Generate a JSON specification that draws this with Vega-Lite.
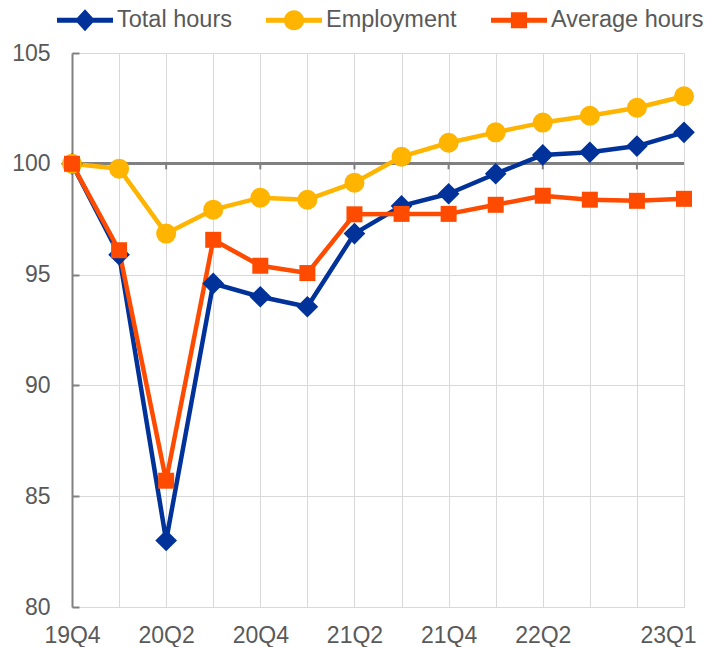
{
  "$schema": "https://vega.github.io/schema/vega-lite/v6.json",
  "autosize": {"type": "none"},
  "width": 612,
  "height": 554,
  "padding": {"left": 72, "top": 53, "right": 26, "bottom": 40},
  "background": "white",
  "config": {
    "view": {"stroke": null},
    "font": "Liberation Sans",
    "axis": {"labelFont": "Liberation Sans", "labelFontSize": 23, "labelColor": "#595959", "title": null},
    "legend": {"symbolStrokeWidth": 0, "symbolOpacity": 1}
  },
  "data": {"values": [
    {"q": "19Q4", "s": "Total hours", "v": 100},
    {"q": "20Q1", "s": "Total hours", "v": 95.9},
    {"q": "20Q2", "s": "Total hours", "v": 83.0},
    {"q": "20Q3", "s": "Total hours", "v": 94.6},
    {"q": "20Q4", "s": "Total hours", "v": 94.0},
    {"q": "21Q1", "s": "Total hours", "v": 93.55},
    {"q": "21Q2", "s": "Total hours", "v": 96.85},
    {"q": "21Q3", "s": "Total hours", "v": 98.1},
    {"q": "21Q4", "s": "Total hours", "v": 98.65},
    {"q": "22Q1", "s": "Total hours", "v": 99.55},
    {"q": "22Q2", "s": "Total hours", "v": 100.4},
    {"q": "22Q3", "s": "Total hours", "v": 100.52},
    {"q": "22Q4", "s": "Total hours", "v": 100.8},
    {"q": "23Q1", "s": "Total hours", "v": 101.42},
    {"q": "19Q4", "s": "Employment", "v": 100},
    {"q": "20Q1", "s": "Employment", "v": 99.78},
    {"q": "20Q2", "s": "Employment", "v": 96.85},
    {"q": "20Q3", "s": "Employment", "v": 97.93},
    {"q": "20Q4", "s": "Employment", "v": 98.47},
    {"q": "21Q1", "s": "Employment", "v": 98.38},
    {"q": "21Q2", "s": "Employment", "v": 99.15},
    {"q": "21Q3", "s": "Employment", "v": 100.32},
    {"q": "21Q4", "s": "Employment", "v": 100.95},
    {"q": "22Q1", "s": "Employment", "v": 101.42},
    {"q": "22Q2", "s": "Employment", "v": 101.86},
    {"q": "22Q3", "s": "Employment", "v": 102.17},
    {"q": "22Q4", "s": "Employment", "v": 102.53},
    {"q": "23Q1", "s": "Employment", "v": 103.05},
    {"q": "19Q4", "s": "Average hours", "v": 100},
    {"q": "20Q1", "s": "Average hours", "v": 96.1},
    {"q": "20Q2", "s": "Average hours", "v": 85.7},
    {"q": "20Q3", "s": "Average hours", "v": 96.57},
    {"q": "20Q4", "s": "Average hours", "v": 95.4},
    {"q": "21Q1", "s": "Average hours", "v": 95.07},
    {"q": "21Q2", "s": "Average hours", "v": 97.72},
    {"q": "21Q3", "s": "Average hours", "v": 97.74},
    {"q": "21Q4", "s": "Average hours", "v": 97.74},
    {"q": "22Q1", "s": "Average hours", "v": 98.15},
    {"q": "22Q2", "s": "Average hours", "v": 98.56},
    {"q": "22Q3", "s": "Average hours", "v": 98.38},
    {"q": "22Q4", "s": "Average hours", "v": 98.33},
    {"q": "23Q1", "s": "Average hours", "v": 98.42}
  ]},
  "encoding": {
    "x": {
      "field": "q", "type": "ordinal",
      "scale": {"type": "point", "padding": 0, "domain": ["19Q4","20Q1","20Q2","20Q3","20Q4","21Q1","21Q2","21Q3","21Q4","22Q1","22Q2","22Q3","22Q4","23Q1"]},
      "axis": {
        "grid": true, "gridColor": "#d9d9d9", "gridWidth": 1,
        "domain": false, "ticks": false, "labelAngle": 0, "labelPadding": 17,
        "labelExpr": "indexof(['19Q4','20Q2','20Q4','21Q2','21Q4','22Q2','23Q1'], datum.value) >= 0 ? datum.value : ''",
        "labelOffset": {"condition": {"test": "datum.value === '23Q1'", "value": -16}, "value": 0}
      }
    },
    "color": {
      "field": "s", "type": "nominal",
      "scale": {"domain": ["Total hours", "Employment", "Average hours"], "range": ["#003299", "#FFB400", "#FF4B00"]},
      "legend": {
        "orient": "none", "legendX": -15, "legendY": -61,
        "direction": "horizontal", "title": null,
        "labelFont": "Liberation Sans", "labelFontSize": 23.5, "labelColor": "#595959",
        "symbolSize": 3136, "labelOffset": 4, "columnPadding": 34
      }
    }
  },
  "layer": [
    {
      "mark": {"type": "rule", "color": "#808080", "strokeWidth": 2},
      "encoding": {"x": null, "color": null, "y": {"datum": 100, "type": "quantitative"}}
    },
    {
      "transform": [
        {"filter": "datum.s === 'Total hours'"},
        {"filter": {"field": "q", "oneOf": ["19Q4","20Q2","20Q4","21Q2","21Q4","22Q2","22Q4"]}}
      ],
      "mark": {"type": "rule", "color": "#808080", "strokeWidth": 2},
      "encoding": {
        "color": null,
        "y": {"datum": 100, "type": "quantitative"},
        "y2": {"datum": 99.75}
      }
    },
    {
      "mark": {"type": "line", "strokeWidth": 4.5, "strokeJoin": "round"},
      "encoding": {
        "y": {
          "field": "v", "type": "quantitative",
          "scale": {"domain": [80, 105], "nice": false, "zero": false},
          "axis": {
            "values": [80, 85, 90, 95, 100, 105],
            "grid": true, "gridColor": "#d9d9d9", "gridWidth": 1,
            "domain": true, "domainColor": "#808080", "domainWidth": 2,
            "ticks": true, "tickColor": "#808080", "tickWidth": 2, "tickSize": -7,
            "labelPadding": 29
          }
        }
      }
    },
    {
      "transform": [{"filter": "datum.v < 0"}],
      "mark": {"type": "point", "filled": true, "opacity": 1},
      "encoding": {
        "y": {"field": "v", "type": "quantitative"},
        "shape": {
          "field": "s", "type": "nominal",
          "scale": {
            "domain": ["Total hours", "Employment", "Average hours"],
            "range": [
              "M-1,-0.09H1V0.09H-1Z M-0.36,0L0,-0.39L0.36,0L0,0.39Z",
              "M-1,-0.09H1V0.09H-1Z M-0.36,0A0.36,0.36 0 1,1 0.36,0A0.36,0.36 0 1,1 -0.36,0Z",
              "M-1,-0.09H1V0.09H-1Z M-0.29,-0.29H0.29V0.29H-0.29Z"
            ]
          },
          "legend": {
            "orient": "none", "legendX": -15, "legendY": -61,
            "direction": "horizontal", "title": null,
            "labelFont": "Liberation Sans", "labelFontSize": 23.5, "labelColor": "#595959",
            "symbolSize": 3136, "labelOffset": 4, "columnPadding": 34
          }
        }
      }
    },
    {
      "transform": [{"filter": "datum.s === 'Total hours'"}],
      "mark": {"type": "point", "filled": true, "opacity": 1, "shape": "diamond", "size": 470},
      "encoding": {"y": {"field": "v", "type": "quantitative"}}
    },
    {
      "transform": [{"filter": "datum.s === 'Employment'"}],
      "mark": {"type": "point", "filled": true, "opacity": 1, "shape": "circle", "size": 400},
      "encoding": {"y": {"field": "v", "type": "quantitative"}}
    },
    {
      "transform": [{"filter": "datum.s === 'Average hours'"}],
      "mark": {"type": "point", "filled": true, "opacity": 1, "shape": "square", "size": 256},
      "encoding": {"y": {"field": "v", "type": "quantitative"}}
    }
  ]
}
